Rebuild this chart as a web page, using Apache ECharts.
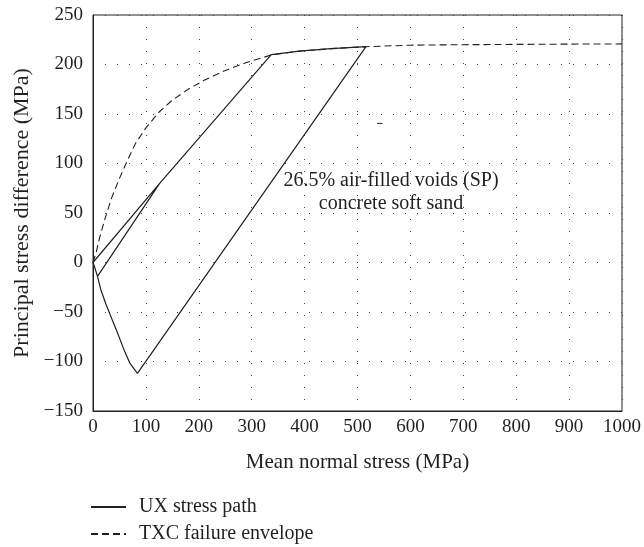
<!DOCTYPE html>
<html>
<head>
<meta charset="utf-8">
<script src="https://cdn.jsdelivr.net/npm/echarts@6/dist/echarts.min.js"></script>
<style>html,body{margin:0;padding:0;background:#fff}#c{width:644px;height:547px}</style>
</head>
<body>
<div id="c"></div>
<script>
// UX stress path (mean normal stress, principal stress difference), in drawing order
const uxPath = [
  [8.5, -14], [3, -4.5], [0, 0], [126, 80], [337, 210], [390, 213.5], [450, 216], [516, 218],
  [84, -112], [70, -102], [60, -90], [44, -68], [25, -43], [14.5, -27], [8.5, -14], [126, 80]
];
// TXC failure envelope
const txcEnvelope = [
  [0, 0], [3, 5], [6.4, 11], [12, 24], [22, 43], [35, 65], [50, 85], [65, 103], [80, 120],
  [100, 136], [125, 152], [150, 164], [180, 175], [210, 184], [250, 194], [290, 202],
  [337, 209.6], [390, 213.5], [450, 216], [516, 218], [600, 219.5], [700, 220],
  [800, 220.3], [900, 220.6], [1000, 220.8]
];
// small stray mark visible in the original figure
const strayMark = [[537, 140.5], [547, 140.5]];

const xTicks = { min: 0, max: 1000, interval: 100 };
const yTicks = { min: -150, max: 250, interval: 50 };
const seriesNames = ['UX stress path', 'TXC failure envelope'];
const noteLines = ['26.5% air-filled voids (SP)', 'concrete soft sand'];

const FONT = 'Liberation Serif';
const TXT = '#231f20';
const chart = echarts.init(document.getElementById('c'), null, { renderer: 'canvas' });

const gridDots = { show: true, lineStyle: { color: '#444', width: 1, type: [1, 11] } };

function legendBox(name, top) {
  return {
    data: [name], orient: 'vertical', left: 90, top: top, padding: 0,
    itemWidth: 35, itemHeight: 14,
    itemStyle: { color: 'rgba(0,0,0,0)', borderWidth: 0, opacity: 0 },
    textStyle: { fontFamily: FONT, fontSize: 20, color: TXT, padding: [0, 0, 0, 8] }
  };
}

chart.setOption({
  animation: false,
  grid: { left: 93, right: 21, top: 15, bottom: 136, show: true, borderColor: '#231f20', borderWidth: 1, backgroundColor: 'transparent' },
  textStyle: { fontFamily: FONT, color: TXT },
  xAxis: {
    type: 'value', min: xTicks.min, max: xTicks.max, interval: xTicks.interval,
    name: 'Mean normal stress (MPa)', nameLocation: 'middle', nameGap: 41,
    nameTextStyle: { fontFamily: FONT, fontSize: 21, color: TXT },
    axisLine: { show: true, onZero: false, lineStyle: { color: '#231f20', width: 1 } },
    axisTick: { show: false },
    axisLabel: { fontFamily: FONT, fontSize: 19, color: TXT, margin: 7, formatter: v => String(v) },
    splitLine: gridDots
  },
  yAxis: {
    type: 'value', min: yTicks.min, max: yTicks.max, interval: yTicks.interval,
    name: 'Principal stress difference (MPa)', nameLocation: 'middle', nameGap: 60,
    nameTextStyle: { fontFamily: FONT, fontSize: 22, color: TXT },
    axisLine: { show: true, onZero: false, lineStyle: { color: '#231f20', width: 1 } },
    axisTick: { show: false },
    axisLabel: { fontFamily: FONT, fontSize: 19, color: TXT, margin: 10,
      formatter: v => (v < 0 ? '\u2212' + Math.abs(v) : String(v)) },
    splitLine: gridDots
  },
  legend: [legendBox(seriesNames[0], 497), legendBox(seriesNames[1], 524)],
  series: [
    { name: seriesNames[1], type: 'line', data: txcEnvelope, showSymbol: false, symbol: 'none',
      lineStyle: { color: '#231f20', width: 1.1, type: [7, 4] }, itemStyle: { color: '#231f20' }, z: 2 },
    { name: seriesNames[0], type: 'line', data: uxPath, showSymbol: false, symbol: 'none',
      lineStyle: { color: '#231f20', width: 1.2 }, itemStyle: { color: '#231f20' }, z: 3 },
    { name: 'mark', type: 'line', data: strayMark, showSymbol: false, symbol: 'none',
      lineStyle: { color: '#231f20', width: 1 }, z: 3 }
  ],
  graphic: [
    { type: 'text', x: 391, y: 169, style: { text: noteLines.join('\n'), fontFamily: FONT, fontSize: 20, fill: TXT, align: 'center', verticalAlign: 'top', lineHeight: 23 } }
  ]
});
</script>
</body>
</html>
